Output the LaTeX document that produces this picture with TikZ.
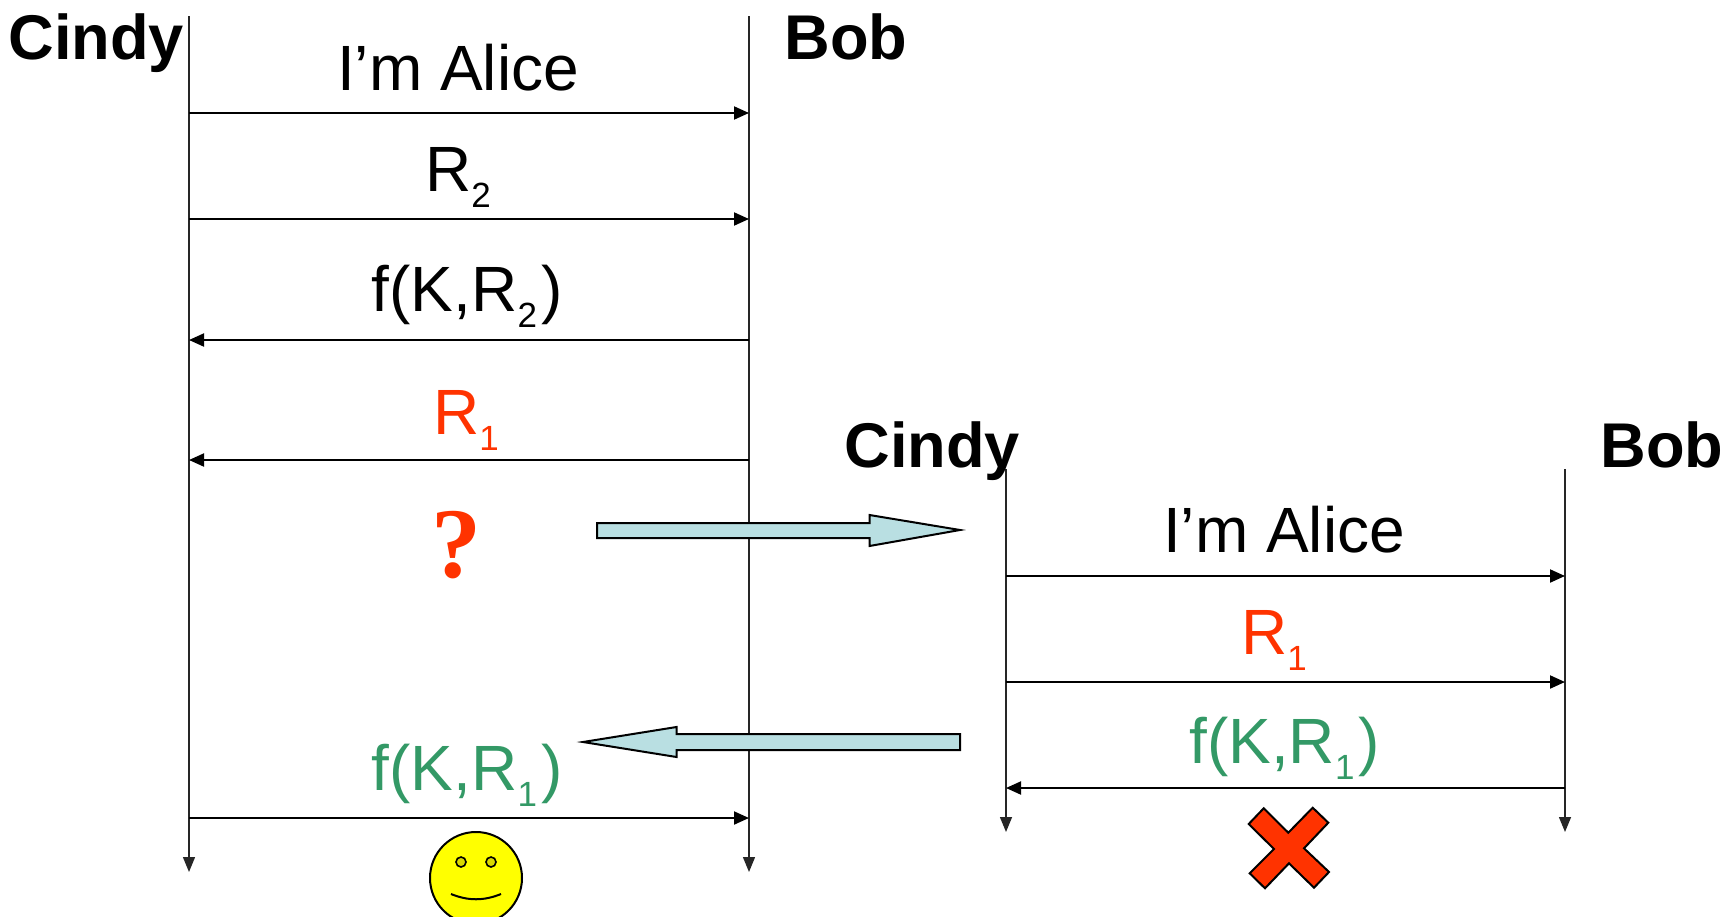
\documentclass[tikz,border=0pt]{standalone}
\usepackage{fontspec}
\setmainfont{Liberation Sans}
\newfontfamily\serifq{Liberation Serif}
\usetikzlibrary{arrows.meta}
\definecolor{redq}{HTML}{FF3300}
\definecolor{greenq}{HTML}{339966}
\definecolor{blockq}{HTML}{B9DFE2}
\definecolor{yellowq}{HTML}{FFFF00}
\definecolor{eyeq}{HTML}{D9D900}
\newcommand{\subq}[1]{\raisebox{-8pt}{\fontsize{17.5}{17.5}\selectfont #1}}
\tikzset{
  x=0.5pt,y=-0.5pt,
  lbl/.style={anchor=base,inner sep=0pt,font=\fontsize{32}{36}\selectfont},
  who/.style={anchor=base west,inner sep=0pt,font=\fontsize{31.6}{36}\selectfont\bfseries},
  msg/.style={line width=1pt,-{Triangle[length=7.5pt,width=6.5pt]}},
  life/.style={line width=0.7pt,draw=black!85,-{Triangle[length=7.5pt,width=6pt]}},
  blockarrow/.style={draw=black,fill=blockq,line width=1pt,miter limit=10},
}
\begin{document}
\begin{tikzpicture}
\useasboundingbox (0,0) rectangle (1724,916);
% lifelines
\coordinate (LAt) at (189,16);   \coordinate (LAb) at (189,872);
\coordinate (LBt) at (749,16);   \coordinate (LBb) at (749,872);
\coordinate (RAt) at (1006,469); \coordinate (RAb) at (1006,832);
\coordinate (RBt) at (1565,469); \coordinate (RBb) at (1565,832);
\draw[life] (LAt) -- (LAb);
\draw[life] (LBt) -- (LBb);
\draw[life] (RAt) -- (RAb);
\draw[life] (RBt) -- (RBb);
% names
\node[who] (cindyL) at (8,59) {Cindy};
\node[who] (bobL) at (784,59) {Bob};
\node[who] (cindyR) at (844,467) {Cindy};
\node[who] (bobR) at (1600,467) {Bob};
% left messages
\coordinate (a1) at (189,113); \coordinate (b1) at (749,113);
\coordinate (a2) at (189,219); \coordinate (b2) at (749,219);
\coordinate (a3) at (189,340); \coordinate (b3) at (749,340);
\coordinate (a4) at (189,460); \coordinate (b4) at (749,460);
\coordinate (a5) at (189,818); \coordinate (b5) at (749,818);
\draw[msg] (a1) -- (b1);
\draw[msg] (a2) -- (b2);
\draw[msg] (b3) -- (a3);
\draw[msg] (b4) -- (a4);
\draw[msg] (a5) -- (b5);
\node[lbl] (t1) at (458,90) {I’m Alice};
\node[lbl] (t2) at (458,191) {R\subq{2}};
\node[lbl] (t3) at (467.5,311) {f(K,R\subq{2}\kern2.5pt)};
\node[lbl,text=redq] (t4) at (466,434) {R\subq{1}};
\node[lbl,text=greenq] (t5) at (467.5,790) {f(K,R\subq{1}\kern2.5pt)};
\node[anchor=base,inner sep=0pt,text=redq,font=\fontsize{50}{50}\selectfont\serifq\bfseries] (q) at (456,577) {?};
% right messages
\coordinate (c1) at (1006,576); \coordinate (d1) at (1565,576);
\coordinate (c2) at (1006,682); \coordinate (d2) at (1565,682);
\coordinate (c3) at (1006,788); \coordinate (d3) at (1565,788);
\draw[msg] (c1) -- (d1);
\draw[msg] (c2) -- (d2);
\draw[msg] (d3) -- (c3);
\node[lbl] (t6) at (1284,552) {I’m Alice};
\node[lbl,text=redq] (t7) at (1274,654) {R\subq{1}};
\node[lbl,text=greenq] (t8) at (1284.5,763) {f(K,R\subq{1}\kern2pt)};
% block arrows
\draw[blockarrow] (597,523) -- (869.5,523) -- (869.5,515) -- (960,530) -- (869.5,546) -- (869.5,538) -- (597,538) -- cycle;
\draw[blockarrow] (960,734) -- (676.5,734) -- (676.5,727) -- (583,742) -- (676.5,757) -- (676.5,750) -- (960,750) -- cycle;
% smiley
\begin{scope}
\clip (0,0) rectangle (1724,916);
\draw[fill=yellowq,line width=1pt] (476,878) circle[radius=46];
\draw[fill=eyeq,line width=0.8pt] (461,862) circle[radius=5];
\draw[fill=eyeq,line width=0.8pt] (491,862) circle[radius=5];
\draw[line width=1pt] (451,894) .. controls (468,901) and (484,901) .. (501,894);
\end{scope}
% cross
\draw[fill=redq,line width=1pt,shift={(1200,770)}]
 (63.7,38.3) -- (88.3,62.7) -- (112.7,37.7) -- (128.3,52.7) -- (104,78.3) -- (129,102) -- (114,117.7) -- (89,93.3) -- (65,118.3) -- (49.7,103.3) -- (74,79) -- (48.7,54) -- cycle;
\end{tikzpicture}
\end{document}
